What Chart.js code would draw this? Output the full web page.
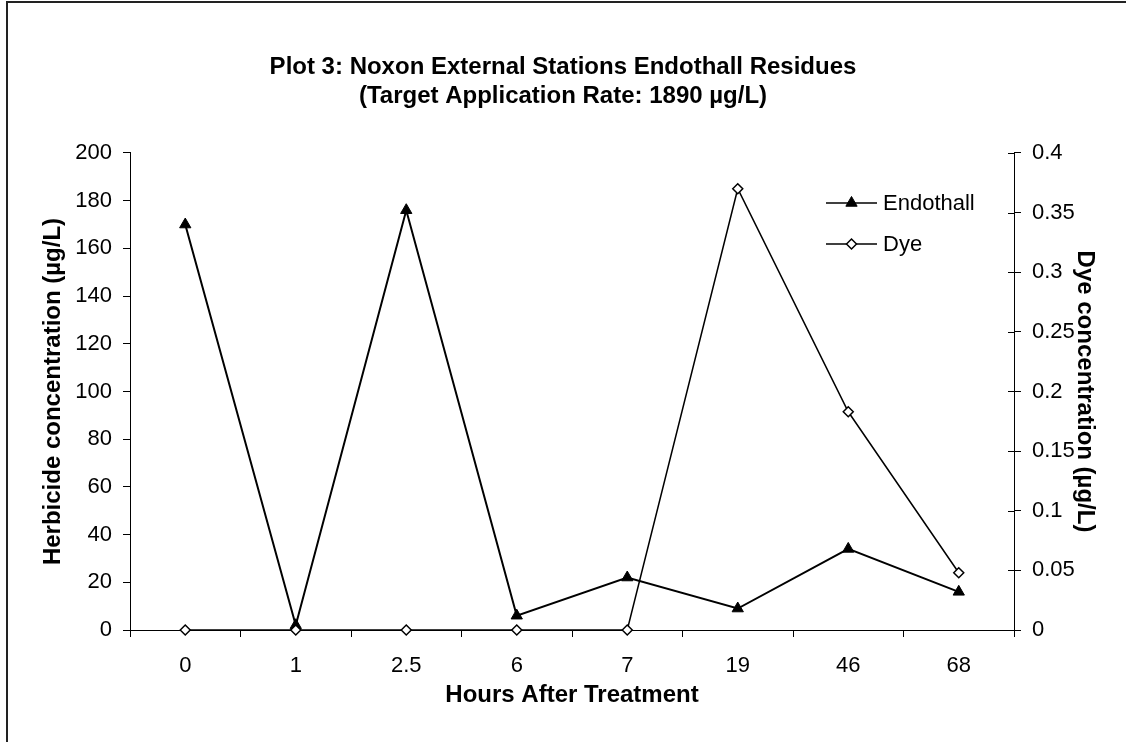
<!DOCTYPE html>
<html>
<head>
<meta charset="utf-8">
<script src="https://cdn.jsdelivr.net/npm/chart.js@4.4.1/dist/chart.umd.min.js"></script>
<style>
  html, body { margin: 0; padding: 0; background: #fff; }
  canvas { display: block; }
</style>
</head>
<body>
<canvas id="plot" width="1126" height="742"></canvas>
<script>
// data
const hours = ['0', '1', '2.5', '6', '7', '19', '46', '68'];
const endothall = [170, 2, 176, 6, 22, 9, 34, 16];
const dye = [0, 0, 0, 0, 0, 0.37, 0.183, 0.048];
const herbicideTicks = [0, 20, 40, 60, 80, 100, 120, 140, 160, 180, 200];
const dyeTicks = [0, 0.05, 0.1, 0.15, 0.2, 0.25, 0.3, 0.35, 0.4];

const FONT = "'Liberation Sans', Arial, sans-serif";

// outer frame like the exported worksheet chart
const framePlugin = {
    id: 'frame',
    beforeDraw(chart) {
        const ctx = chart.ctx;
        ctx.save();
        ctx.fillStyle = '#fff';
        ctx.fillRect(0, 0, chart.width, chart.height);
        ctx.strokeStyle = '#222';
        ctx.lineWidth = 2;
        ctx.strokeRect(7, 2, chart.width + 20, chart.height + 20);
        ctx.restore();
    }
};

// right axis ticks cross the axis line
const crossTicksPlugin = {
    id: 'crossTicks',
    afterDraw(chart) {
        const scale = chart.scales.y2;
        const ctx = chart.ctx;
        ctx.save();
        ctx.strokeStyle = '#000';
        ctx.lineWidth = 1;
        scale.ticks.forEach((t, i) => {
            const y = Math.round(scale.getPixelForTick(i)) + 0.5;
            ctx.beginPath();
            ctx.moveTo(scale.left - 6, y);
            ctx.lineTo(scale.left, y);
            ctx.stroke();
        });
        ctx.restore();
    }
};

// legend drawn inside the plot area, top right
const legendPlugin = {
    id: 'innerLegend',
    afterDraw(chart) {
        const ctx = chart.ctx;
        const x0 = chart.chartArea.right - 188;
        let y = chart.chartArea.top + 50;
        ctx.save();
        chart.data.datasets.forEach(ds => {
            ctx.strokeStyle = ds.borderColor;
            ctx.lineWidth = 1.5;
            ctx.beginPath();
            ctx.moveTo(x0, y);
            ctx.lineTo(x0 + 51, y);
            ctx.stroke();
            ctx.fillStyle = ds.pointBackgroundColor;
            ctx.strokeStyle = ds.pointBorderColor;
            ctx.lineWidth = ds.pointBorderWidth;
            Chart.helpers.drawPoint(ctx, {
                pointStyle: ds.pointStyle,
                radius: ds.pointRadius,
                rotation: 0,
                borderWidth: ds.pointBorderWidth
            }, x0 + 25.5, y);
            ctx.fillStyle = '#000';
            ctx.font = '22px ' + FONT;
            ctx.textBaseline = 'middle';
            ctx.fillText(ds.label, x0 + 57, y + 1);
            y += 41;
        });
        ctx.restore();
    }
};

new Chart(document.getElementById('plot'), {
    type: 'line',
    data: {
        labels: hours,
        datasets: [{
            label: 'Endothall',
            data: endothall,
            yAxisID: 'y',
            borderColor: '#000',
            borderWidth: 2,
            pointStyle: 'triangle',
            pointRadius: 6.5,
            pointBackgroundColor: '#000',
            pointBorderColor: '#000',
            pointBorderWidth: 1,
            tension: 0,
            clip: false,
            order: 1
        }, {
            label: 'Dye',
            data: dye,
            yAxisID: 'y2',
            borderColor: '#000',
            borderWidth: 1.5,
            pointStyle: 'rectRot',
            pointRadius: 5,
            pointBackgroundColor: '#fff',
            pointBorderColor: '#000',
            pointBorderWidth: 1.5,
            tension: 0,
            clip: false,
            order: 0
        }]
    },
    options: {
        responsive: false,
        animation: false,
        layout: { padding: 0 },
        plugins: {
            legend: { display: false },
            tooltip: { enabled: false },
            title: {
                display: true,
                text: ['Plot 3: Noxon External Stations Endothall Residues',
                       '(Target Application Rate: 1890 µg/L)'],
                color: '#000',
                font: { family: FONT, size: 24, weight: 'bold', lineHeight: 1.208 },
                padding: { top: 53, bottom: 42 }
            }
        },
        scales: {
            x: {
                offset: true,
                grid: { offset: true, drawOnChartArea: false, tickLength: 7, color: '#000' },
                border: { color: '#000', width: 1 },
                ticks: { color: '#000', padding: 16, font: { family: FONT, size: 22 } },
                title: {
                    display: true,
                    text: 'Hours After Treatment',
                    color: '#000',
                    font: { family: FONT, size: 24, weight: 'bold' },
                    padding: { top: 0, bottom: 32 }
                },
                afterFit(s) { s.height = 112; }
            },
            y: {
                position: 'left',
                min: 0,
                max: 200,
                afterBuildTicks(s) { s.ticks = herbicideTicks.map(v => ({ value: v })); },
                grid: { drawOnChartArea: false, tickLength: 7, color: '#000' },
                border: { color: '#000', width: 1 },
                ticks: { color: '#000', padding: 11, font: { family: FONT, size: 22 } },
                title: {
                    display: true,
                    text: 'Herbicide concentration (µg/L)',
                    color: '#000',
                    font: { family: FONT, size: 24, weight: 'bold' },
                    padding: { top: 39, bottom: 0 }
                },
                afterFit(s) { s.width = 130; }
            },
            y2: {
                position: 'right',
                min: 0,
                max: 0.4,
                afterBuildTicks(s) { s.ticks = dyeTicks.map(v => ({ value: v })); },
                grid: { drawOnChartArea: false, tickLength: 7, color: '#000' },
                border: { color: '#000', width: 1 },
                ticks: {
                    color: '#000', padding: 11, font: { family: FONT, size: 22 },
                    callback: v => String(+v.toFixed(2))
                },
                title: {
                    display: true,
                    text: 'Dye concentration (µg/L)',
                    color: '#000',
                    font: { family: FONT, size: 24, weight: 'bold' },
                    padding: { top: 26.6, bottom: 0 }
                },
                afterFit(s) { s.width = 112; }
            }
        }
    },
    plugins: [framePlugin, crossTicksPlugin, legendPlugin]
});
</script>
</body>
</html>
